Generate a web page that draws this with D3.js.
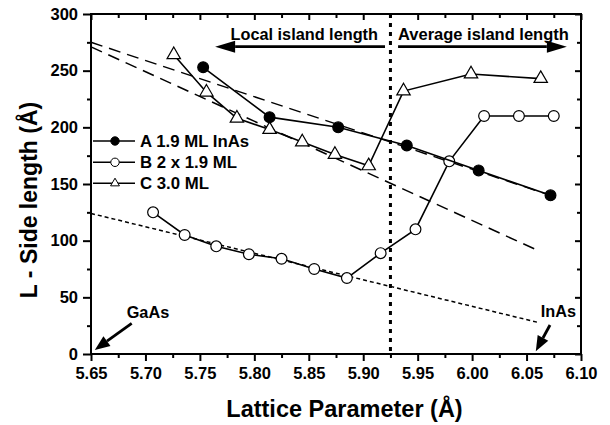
<!DOCTYPE html>
<html><head><meta charset="utf-8">
<script src="https://cdn.jsdelivr.net/npm/d3@7"></script>
<style>
html,body{margin:0;padding:0;background:#fff;}
text{font-family:"Liberation Sans",Arial,Helvetica,sans-serif;font-weight:bold;fill:#000;}
</style></head>
<body><svg id="c" width="610" height="425"></svg>
<script>
// ---- data ----
const xMajorTicks = [5.65,5.70,5.75,5.80,5.85,5.90,5.95,6.00,6.05,6.10];
const xMinorTicks = [5.675,5.725,5.775,5.825,5.875,5.925,5.975,6.025,6.075];
const yMajorTicks = [0,50,100,150,200,250,300];
const yMinorTicks = [25,75,125,175,225,275];

const seriesNames = ["A 1.9 ML InAs","B 2 x 1.9 ML","C 3.0 ML"];
const aX = [5.753,5.814,5.877,5.940,6.006,6.072];
const aY = [253,209,200,184,162,140];
const bX = [5.707,5.736,5.765,5.795,5.825,5.855,5.885,5.916,5.948,5.979,6.011,6.043,6.075];
const bY = [125,105,95,88,84,75,67,89,110,170,210,210,210];
const cX = [5.726,5.756,5.784,5.814,5.844,5.874,5.905,5.937,5.999,6.063];
const cY = [264,231,208,198,187,176,166,232,247,243];

// fitted guide lines (start/end)
const fit1X = [5.65,6.072], fit1Y = [275,140];
const fit2X = [5.65,6.059], fit2Y = [271,92];
const fit3X = [5.65,6.06],  fit3Y = [124,28];
const dividerX = 5.925;

const annLocal = "Local island length";
const annAverage = "Average island length";
const xTitle = "Lattice Parameter (Å)";
const yTitle = "L - Side length (Å)";

// ---- layout ----
const svg = d3.select("#c");
const L = 91, R = 581, T = 14, B = 354;
const x = d3.scaleLinear().domain([5.65,6.10]).range([L,R]);
const y = d3.scaleLinear().domain([0,300]).range([B,T]);

function styleAxis(g){
  g.select(".domain").remove();
  g.selectAll("line").attr("stroke","#000").attr("stroke-width",2);
}
// bottom
const gb = svg.append("g").attr("transform",`translate(0,${B})`)
  .call(d3.axisBottom(x).tickValues(xMajorTicks).tickSize(7).tickFormat(d3.format(".2f")));
styleAxis(gb);
gb.selectAll("text").attr("dy",null).attr("y",25).attr("font-size",16.5);
svg.append("g").attr("transform",`translate(0,${B})`)
  .call(d3.axisBottom(x).tickValues(xMinorTicks).tickSize(4).tickFormat("")).call(styleAxis);
// top (inward)
svg.append("g").attr("transform",`translate(0,${T})`)
  .call(d3.axisBottom(x).tickValues(xMajorTicks).tickSize(6).tickFormat("")).call(styleAxis);
svg.append("g").attr("transform",`translate(0,${T})`)
  .call(d3.axisBottom(x).tickValues(xMinorTicks).tickSize(4).tickFormat("")).call(styleAxis);
// left
const gl = svg.append("g").attr("transform",`translate(${L},0)`)
  .call(d3.axisLeft(y).tickValues(yMajorTicks).tickSize(8).tickFormat(d3.format("d")));
styleAxis(gl);
gl.selectAll("text").attr("x",-13).attr("font-size",16.5);
svg.append("g").attr("transform",`translate(${L},0)`)
  .call(d3.axisLeft(y).tickValues(yMinorTicks).tickSize(4).tickFormat("")).call(styleAxis);
// right (inward)
svg.append("g").attr("transform",`translate(${R},0)`)
  .call(d3.axisLeft(y).tickValues(yMajorTicks).tickSize(6).tickFormat("")).call(styleAxis);
svg.append("g").attr("transform",`translate(${R},0)`)
  .call(d3.axisLeft(y).tickValues(yMinorTicks).tickSize(4).tickFormat("")).call(styleAxis);
svg.selectAll(".tick text").attr("fill","#000");

// frame
svg.append("rect").attr("x",L).attr("y",T).attr("width",R-L).attr("height",B-T)
  .attr("fill","none").attr("stroke","#000").attr("stroke-width",2);

// guide lines
const line2 = (xs,ys)=>d3.line().x((d,i)=>x(xs[i])).y((d,i)=>y(ys[i]))(xs);
svg.append("path").attr("d",line2(fit1X,fit1Y)).attr("fill","none").attr("stroke","#000")
  .attr("stroke-width",1.5).attr("stroke-dasharray","12,7");
svg.append("path").attr("d",line2(fit2X,fit2Y)).attr("fill","none").attr("stroke","#000")
  .attr("stroke-width",1.5).attr("stroke-dasharray","12,7");
svg.append("path").attr("d",line2(fit3X,fit3Y)).attr("fill","none").attr("stroke","#000")
  .attr("stroke-width",1.5).attr("stroke-dasharray","4,3");
svg.append("line").attr("x1",x(dividerX)).attr("x2",x(dividerX)).attr("y1",T).attr("y2",B)
  .attr("stroke","#000").attr("stroke-width",3).attr("stroke-dasharray","4,5");

// series
function drawSeries(xs,ys,kind){
  svg.append("path").attr("d",line2(xs,ys)).attr("fill","none").attr("stroke","#000").attr("stroke-width",1.6);
  const pts = xs.map((v,i)=>[x(v),y(ys[i])]);
  if(kind==="tri"){
    svg.append("g").selectAll("path").data(pts).join("path")
      .attr("d",d3.symbol(d3.symbolTriangle,78)())
      .attr("transform",d=>`translate(${d[0]},${d[1]})`)
      .attr("fill","#fff").attr("stroke","#000").attr("stroke-width",1.2);
  } else {
    svg.append("g").selectAll("circle").data(pts).join("circle")
      .attr("cx",d=>d[0]).attr("cy",d=>d[1]).attr("r",5.4)
      .attr("fill",kind==="filled"?"#000":"#fff").attr("stroke","#000").attr("stroke-width",1.2);
  }
}
drawSeries(cX,cY,"tri");
drawSeries(bX,bY,"open");
drawSeries(aX,aY,"filled");

// legend
const kinds = ["filled","open","tri"];
const legY = [141,162.3,183.3];
kinds.forEach((k,i)=>{
  svg.append("line").attr("x1",93).attr("x2",135).attr("y1",legY[i]).attr("y2",legY[i])
    .attr("stroke","#000").attr("stroke-width",1.6);
  if(k==="tri"){
    svg.append("path").attr("d",d3.symbol(d3.symbolTriangle,34)())
      .attr("transform",`translate(115,${legY[i]})`).attr("fill","#fff").attr("stroke","#000").attr("stroke-width",1);
  } else {
    svg.append("circle").attr("cx",115).attr("cy",legY[i]).attr("r",4.2)
      .attr("fill",k==="filled"?"#000":"#fff").attr("stroke","#000").attr("stroke-width",1);
  }
  svg.append("text").attr("x",140).attr("y",legY[i]+6).attr("font-size",16.8).text(seriesNames[i]);
});

// arrows
function arrow(x1,y1,x2,y2,hl,hw,sw){
  const a = Math.atan2(y2-y1,x2-x1);
  const bx = x2-hl*Math.cos(a), by = y2-hl*Math.sin(a);
  svg.append("line").attr("x1",x1).attr("y1",y1).attr("x2",bx).attr("y2",by)
    .attr("stroke","#000").attr("stroke-width",sw);
  const px = -Math.sin(a)*hw, py = Math.cos(a)*hw;
  svg.append("path").attr("d",`M${x2},${y2}L${bx+px},${by+py}L${bx-px},${by-py}Z`).attr("fill","#000");
}
arrow(x(5.920),y(271.2),x(5.764),y(271.2),20,6,2.8);
arrow(x(5.932),y(271.2),x(6.087),y(271.2),20,6,2.8);
svg.append("text").attr("x",230.5).attr("y",39.5).attr("font-size",16.3).text(annLocal);
svg.append("text").attr("x",398).attr("y",39.5).attr("font-size",16.5).text(annAverage);

// GaAs / InAs
arrow(131.7,323.3,x(5.6535),y(3.5),15,6,2.8);
svg.append("text").attr("x",126.7).attr("y",318.3).attr("font-size",16.3).text("GaAs");
arrow(550,325,x(6.0585),y(2.5),15,6,2.8);
svg.append("text").attr("x",540.7).attr("y",316.7).attr("font-size",16.3).text("InAs");

// titles
svg.append("text").attr("x",344.5).attr("y",416.5).attr("text-anchor","middle").attr("font-size",23.5).text(xTitle);
svg.append("text").attr("transform","translate(37,200) rotate(-90)").attr("text-anchor","middle")
  .attr("font-size",23).text(yTitle);
</script></body></html>
